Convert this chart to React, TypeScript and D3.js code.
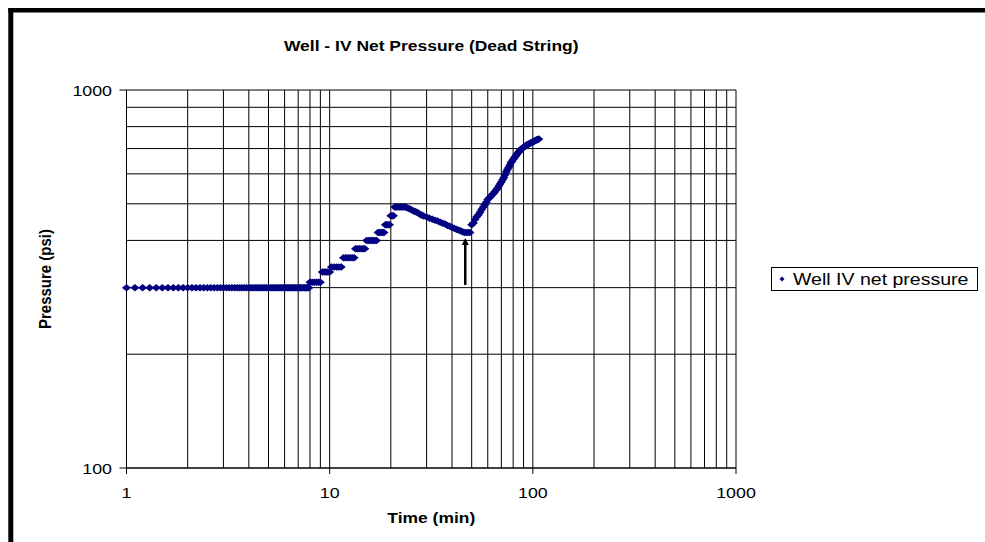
import * as d3 from 'd3';

// readings taken off the plot (time in minutes, pressure in psi)
const flatTime = [
  1.0, 1.1, 1.2, 1.3, 1.4, 1.5, 1.6, 1.7, 1.8, 1.9,
  2.0, 2.1, 2.2, 2.3, 2.4, 2.5, 2.6, 2.7, 2.8, 2.9,
  3.0, 3.1, 3.2, 3.3, 3.4, 3.5, 3.6, 3.7, 3.8, 3.9,
  4.0, 4.1, 4.2, 4.3, 4.4, 4.5, 4.6, 4.7, 4.8, 4.9,
  5.0, 5.1, 5.2, 5.3, 5.4, 5.5, 5.6, 5.7, 5.8, 5.9,
  6.0, 6.1, 6.2, 6.3, 6.4, 6.5, 6.6, 6.7, 6.8, 6.9,
  7.0, 7.1, 7.2, 7.3, 7.4, 7.5, 7.6, 7.7, 7.8, 7.9,
];
const flatPsi = [
  300, 300, 300, 300, 300, 300, 300, 300, 300, 300,
  300, 300, 300, 300, 300, 300, 300, 300, 300, 300,
  300, 300, 300, 300, 300, 300, 300, 300, 300, 300,
  300, 300, 300, 300, 300, 300, 300, 300, 300, 300,
  300, 300, 300, 300, 300, 300, 300, 300, 300, 300,
  300, 300, 300, 300, 300, 300, 300, 300, 300, 300,
  300, 300, 300, 300, 300, 300, 300, 300, 300, 300,
];

const buildTime = [
  8.0, 8.2, 8.4, 8.6, 8.8, 9.0,
  9.2, 9.4, 9.6, 9.8, 10.0,
  10.2, 10.5, 10.8, 11.1, 11.4,
  11.7, 12.0, 12.3, 12.6, 12.9, 13.2,
  13.4, 13.7, 14.0, 14.3, 14.6, 14.9,
  15.2, 15.5, 15.8, 16.1, 16.4, 16.7, 17.0,
  17.3, 17.6, 17.9, 18.2, 18.5,
  18.8, 19.1, 19.4, 19.7,
  20.0, 20.3, 20.6,
  20.9, 21.2, 21.6, 22.0, 22.4, 22.8, 23.2,
];
const buildPsi = [
  310, 310, 310, 310, 310, 310,
  330, 330, 330, 330, 330,
  340, 340, 340, 340, 340,
  360, 360, 360, 360, 360, 360,
  380, 380, 380, 380, 380, 380,
  400, 400, 400, 400, 400, 400, 400,
  420, 420, 420, 420, 420,
  440, 440, 440, 440,
  465, 465, 465,
  490, 490, 490, 490, 490, 490, 490,
];

const fallTime = [
  23.6, 24, 24.5, 25, 25.5, 26, 26.5, 27, 27.5, 28, 28.5, 29, 30, 31, 32, 33, 34, 35, 36,
  37, 38, 39, 40, 41, 42, 43, 44, 45, 46, 47, 48, 49,
];
const fallPsi = [
  490, 488, 486, 484, 481, 478, 476, 474, 471, 468, 466, 464, 461, 458, 455, 452, 450, 447, 444,
  442, 438, 436, 433, 431, 428, 426, 424, 422, 420, 420, 420, 420,
];

const riseTime = [
  50, 51, 52, 53, 54, 55, 56, 57, 58, 59, 60, 61, 62, 63, 64, 65, 66, 67, 68, 69,
  70, 71, 72, 73, 74, 75, 76, 77, 78, 79, 80, 81, 82, 83, 84, 85, 86, 87, 88, 89,
  90, 91, 92, 93, 94, 95, 96, 97, 98, 99, 100, 101, 102, 103, 104, 105, 106, 107,
];
const risePsi = [
  440, 445, 455, 462, 468, 475, 483, 490, 497, 505, 513, 518, 523, 528, 532, 538, 544, 550, 557, 564,
  571, 579, 587, 597, 608, 616, 624, 632, 642, 648, 655, 661, 667, 673, 679, 684, 690, 695, 699, 702,
  705, 709, 712, 714, 717, 719, 721, 723, 725, 727, 729, 731, 733, 735, 737, 739, 740, 742,
];

const xTickLabels = [1, 10, 100, 1000];
const yTickLabels = [100, 1000];

// arrow pointing at the end of the fall-off
const arrowTime = 46.5;
const arrowFromPsi = 305;
const arrowToPsi = 406;

const title = 'Well - IV Net Pressure (Dead String)';
const xTitle = 'Time (min)';
const yTitle = 'Pressure (psi)';
const seriesName = 'Well IV net pressure';

const W = 985;
const H = 542;
const plot = { left: 126.5, right: 736, top: 90, bottom: 468 };
const font = '"Liberation Sans", Arial, sans-serif';
const stretch = 1.15; // source picture is a bit widened horizontally
const navy = '#000080';

const diamond = (w: number, h: number) =>
  `M0,${-h / 2}L${w / 2},0L0,${h / 2}L${-w / 2},0Z`;

function SText({ x, y, size, bold, anchor, rotate, children }: any) {
  const tr = rotate
    ? `translate(${x},${y}) scale(${stretch},1) rotate(${rotate})`
    : `translate(${x},${y}) scale(${stretch},1)`;
  return (
    <text
      transform={tr}
      fontFamily={font}
      fontSize={size}
      fontWeight={bold ? 'bold' : 'normal'}
      textAnchor={anchor || 'start'}
      fill="#000"
    >
      {children}
    </text>
  );
}

export default function App() {
  const x = d3.scaleLog().domain([1, 1000]).range([plot.left, plot.right]);
  const y = d3.scaleLog().domain([100, 1000]).range([plot.bottom, plot.top]);

  const times = [...flatTime, ...buildTime, ...fallTime, ...riseTime];
  const psi = [...flatPsi, ...buildPsi, ...fallPsi, ...risePsi];
  const points = times.map((t, i) => ({ t, p: psi[i] }));

  const xGrid = x.ticks();
  const yGrid = y.ticks();

  const ax = x(arrowTime);
  const aTip = y(arrowToPsi);
  const aBase = y(arrowFromPsi);
  const headH = 7;

  const plotMidX = (plot.left + plot.right) / 2;
  const plotMidY = (plot.top + plot.bottom) / 2;

  return (
    <svg
      width={W}
      height={H}
      style={{ position: 'absolute', left: 0, top: 0, background: '#fff' }}
    >
      <rect x={0} y={0} width={W} height={H} fill="#fff" />

      {/* outer chart frame (only top and left are inside the picture) */}
      <line x1={10.8} x2={10.8} y1={8} y2={H} stroke="#000" strokeWidth={5} />
      <line x1={8.3} x2={W} y1={10.2} y2={10.2} stroke="#000" strokeWidth={4.5} />

      {/* gridlines */}
      {xGrid.map((v) => (
        <line
          key={'gx' + v}
          x1={x(v)}
          x2={x(v)}
          y1={plot.top}
          y2={plot.bottom}
          stroke="#000"
          strokeWidth={1}
        />
      ))}
      {yGrid.map((v) => (
        <line
          key={'gy' + v}
          x1={plot.left}
          x2={plot.right}
          y1={y(v)}
          y2={y(v)}
          stroke="#000"
          strokeWidth={1}
        />
      ))}

      {/* axes + ticks */}
      <line x1={plot.left} x2={plot.right} y1={plot.bottom} y2={plot.bottom} stroke="#000" />
      <line x1={plot.left} x2={plot.left} y1={plot.top} y2={plot.bottom} stroke="#000" />
      {xTickLabels.map((v) => (
        <g key={'xt' + v}>
          <line x1={x(v)} x2={x(v)} y1={plot.bottom} y2={plot.bottom + 6} stroke="#000" />
          <SText x={x(v)} y={plot.bottom + 30} size={15.5} anchor="middle">
            {v}
          </SText>
        </g>
      ))}
      {yTickLabels.map((v) => (
        <g key={'yt' + v}>
          <line x1={plot.left - 7} x2={plot.left} y1={y(v)} y2={y(v)} stroke="#000" />
          <SText x={112} y={y(v) + 5.5} size={15.5} anchor="end">
            {v}
          </SText>
        </g>
      ))}

      {/* series */}
      {points.map((d, i) => (
        <path
          key={'pt' + i}
          d={diamond(9, 7.5)}
          transform={`translate(${x(d.t)},${y(d.p)})`}
          fill={navy}
        />
      ))}

      {/* arrow */}
      <line x1={ax} x2={ax} y1={aBase} y2={aTip + headH - 1} stroke="#000" strokeWidth={2.5} />
      <path
        d={`M${ax},${aTip}L${ax + 3.5},${aTip + headH}L${ax - 3.5},${aTip + headH}Z`}
        fill="#000"
      />

      {/* titles */}
      <SText x={plotMidX} y={51} size={15.2} bold anchor="middle">
        {title}
      </SText>
      <SText x={plotMidX} y={523} size={15.2} bold anchor="middle">
        {xTitle}
      </SText>
      <SText x={51} y={plotMidY} size={15} bold anchor="middle" rotate={-90}>
        {yTitle}
      </SText>

      {/* legend */}
      <rect x={771.5} y={267.5} width={206} height={23} fill="#fff" stroke="#000" />
      <path d={diamond(5, 5)} transform="translate(782,279)" fill={navy} />
      <SText x={793} y={285} size={17}>
        {seriesName}
      </SText>
    </svg>
  );
}
